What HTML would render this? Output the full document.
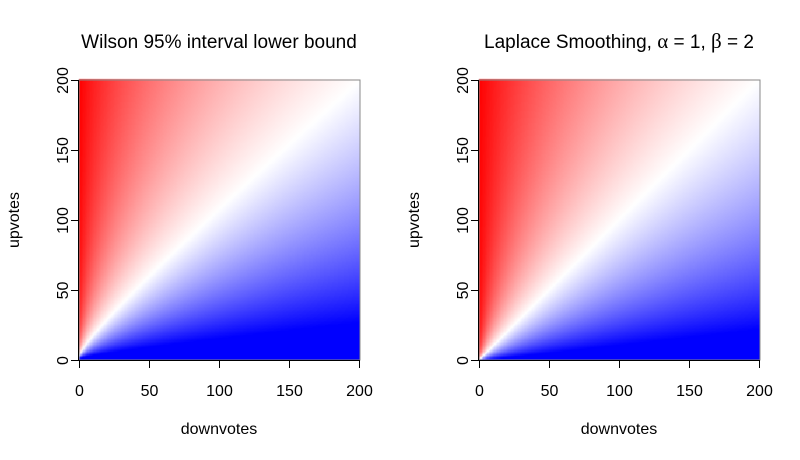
<!DOCTYPE html>
<html><head><meta charset="utf-8"><style>
html,body{margin:0;padding:0;background:#fff;}
#wrap{position:relative;width:800px;height:460px;overflow:hidden;}
canvas{position:absolute;left:0;top:0;}
svg{position:absolute;left:0;top:0;}
text{font-family:"Liberation Sans",Arial,sans-serif;fill:#000;}
</style></head><body>
<div id="wrap">
<canvas id="cv" width="800" height="460"></canvas>
<svg id="sv" width="800" height="460"></svg>
</div>
<script>
var downvotes = [];
var upvotes = [];
for (var i = 0; i <= 200; i++) { downvotes.push(i); upvotes.push(i); }
var tickValues = [0, 50, 100, 150, 200];
var tickLabels = ["0", "50", "100", "150", "200"];
var panelTitles = ["Wilson 95% interval lower bound", "Laplace Smoothing"];
var laplaceAlpha = 1, laplaceBeta = 2, wilsonZ = 1.96;

function wilson(u, d) {
  var n = u + d; if (n === 0) return 0;
  var p = u / n, z = wilsonZ, z2 = z * z;
  return (p + z2 / (2 * n) - z * Math.sqrt((p * (1 - p) + z2 / (4 * n)) / n)) / (1 + z2 / n);
}
function laplace(u, d) { return (u + laplaceAlpha) / (u + d + laplaceBeta); }

function color(v, lo, mid, hi) {
  var r, g, b;
  if (v >= mid) { var t = Math.min(1, (v - mid) / (hi - mid)); r = 255; g = b = Math.round(255 * (1 - t)); }
  else { var t2 = Math.min(1, (mid - v) / (mid - lo)); b = 255; r = g = Math.round(255 * (1 - t2)); }
  return "rgb(" + r + "," + g + "," + b + ")";
}

var panels = [{x0: 79, fn: wilson, lo: 0.08, mid: 0.45, hi: 0.98}, {x0: 479, fn: laplace, lo: 0.1, mid: 0.5, hi: 1.0}];
var Y0 = 360, S = 1.4;
function xs(p, d) { return p.x0 + d * S; }
function ys(u) { return Y0 - u * S; }

var ctx = document.getElementById('cv').getContext('2d');
panels.forEach(function (p) {
  for (var a = 0; a < downvotes.length; a++) {
    for (var b = 0; b < upvotes.length; b++) {
      ctx.fillStyle = color(p.fn(upvotes[b], downvotes[a]), p.lo, p.mid, p.hi);
      var x1 = Math.round(xs(p, downvotes[a])), x2 = Math.round(xs(p, downvotes[a] + 1));
      var y1 = Math.round(ys(upvotes[b] + 1)), y2 = Math.round(ys(upvotes[b]));
      ctx.fillRect(x1, y1, x2 - x1, y2 - y1);
    }
  }
});

var NS = "http://www.w3.org/2000/svg";
var sv = document.getElementById('sv');
function mk(tag, attrs, txt) {
  var e = document.createElementNS(NS, tag);
  for (var k in attrs) e.setAttribute(k, attrs[k]);
  if (txt !== undefined) e.textContent = txt;
  sv.appendChild(e); return e;
}
panels.forEach(function (p, pi) {
  var box = mk('rect', {x: p.x0, y: 80, width: 281, height: 280, fill: 'none', stroke: '#888', 'stroke-width': 1});
  
  
  var xa = mk('line', {x1: p.x0, y1: 360.5, x2: xs(p, 200), y2: 360.5, stroke: '#000'});
  
  
  var ya = mk('line', {x1: p.x0 - 0.5, y1: 80, x2: p.x0 - 0.5, y2: 360, stroke: '#000'});
  
  
  tickValues.forEach(function (v, i) {
    var x = Math.round(xs(p, v)) + 0.5;
    var t = mk('line', {x1: x, y1: 360, x2: x, y2: 368, stroke: '#000'});
    
    
    var l = mk('text', {x: x, y: 396, 'font-size': 16, 'text-anchor': 'middle'}, tickLabels[i]);
    
    
    var y = Math.round(ys(v)) + 0.5;
    var t2 = mk('line', {x1: p.x0 - 8, y1: y, x2: p.x0, y2: y, stroke: '#000'});
    
    
    var l2 = mk('text', {x: 0, y: 0, 'font-size': 16, 'text-anchor': 'middle', transform: 'translate(' + (p.x0 - 11) + ',' + y + ') rotate(-90)'}, tickLabels[i]);
    
    
  });
  var xt = mk('text', {x: p.x0 + 140, y: 434, 'font-size': 16, 'text-anchor': 'middle'}, 'downvotes');
  
  
  var yt = mk('text', {x: 0, y: 0, 'font-size': 16, 'text-anchor': 'middle', transform: 'translate(' + (p.x0 - 60) + ',220) rotate(-90)'}, 'upvotes');
  
  
});
var t1 = mk('text', {x: 219, y: 48, 'font-size': 19, 'text-anchor': 'middle'}, panelTitles[0]);


var t2 = mk('text', {x: 619, y: 48, 'font-size': 19, 'text-anchor': 'middle'});


t2.setAttribute('xml:space', 'preserve');
t2.innerHTML = panelTitles[1] + ', <tspan font-family="Liberation Serif, serif" font-size="21">α</tspan> = ' + laplaceAlpha + ',  <tspan font-family="Liberation Serif, serif" font-size="21">β</tspan> = ' + laplaceBeta;
</script>
</body></html>
